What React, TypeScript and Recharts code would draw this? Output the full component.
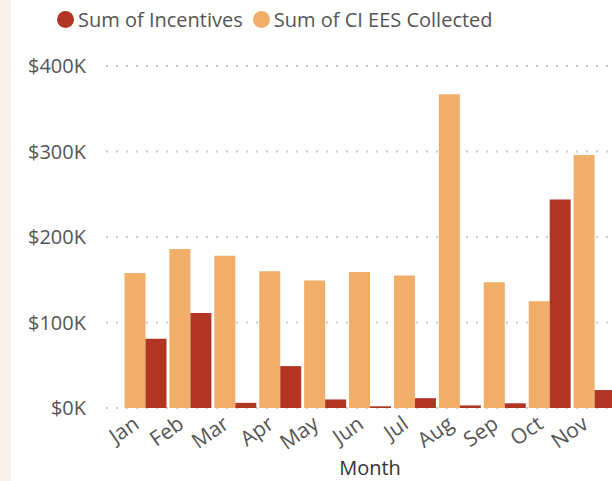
import { BarChart, Bar, XAxis, YAxis, CartesianGrid } from 'recharts'

const months = ['Jan', 'Feb', 'Mar', 'Apr', 'May', 'Jun', 'Jul', 'Aug', 'Sep', 'Oct', 'Nov']
const ciEesCollected = [158000, 186000, 178000, 160000, 149000, 159000, 155000, 367000, 147000, 125000, 296000]
const incentives = [81000, 111000, 6000, 49000, 10000, 2000, 11500, 3000, 5500, 244000, 21000]
const yTicks = [0, 100000, 200000, 300000, 400000]

const ORANGE = '#f0ae68'
const RED = '#b03623'
const FONT = '"Open Sans", sans-serif'

const data = months.map((month, i) => ({
  month,
  ees: ciEesCollected[i],
  incentives: incentives[i],
}))

function LegendItem({ color, label }: { color: string; label: string }) {
  return (
    <div style={{ display: 'flex', alignItems: 'center', gap: 4 }}>
      <span style={{ width: 17, height: 17, borderRadius: '50%', background: color, display: 'inline-block' }} />
      <span style={{ fontSize: 20, color: '#555' }}>{label}</span>
    </div>
  )
}

function MonthTick({ x, y, payload }: { x?: number; y?: number; payload?: { value: string } }) {
  return (
    <g transform={`translate(${(x ?? 0) - 5},${(y ?? 0) + 11})`}>
      <text
        x={0}
        y={0}
        textAnchor="end"
        transform="rotate(-35)"
        fontSize={21}
        fill="#555"
        fontFamily={FONT}
      >
        {payload?.value}
      </text>
    </g>
  )
}

export default function App() {
  return (
    <div
      style={{
        position: 'fixed',
        left: 0,
        top: 0,
        width: 612,
        height: 481,
        overflow: 'hidden',
        background: '#fff',
        fontFamily: FONT,
      }}
    >
      <div style={{ position: 'absolute', left: 0, top: 0, width: 11, height: 481, background: '#f9f4ea' }} />
      <div style={{ position: 'absolute', left: 57, top: 6, display: 'flex', gap: 10, zIndex: 2 }}>
        <LegendItem color={RED} label="Sum of Incentives" />
        <LegendItem color={ORANGE} label="Sum of CI EES Collected" />
      </div>
      <BarChart
        width={634}
        height={481}
        data={data}
        margin={{ top: 66, right: 0, left: 0, bottom: 0 }}
        barCategoryGap={1.5}
        barGap={0}
      >
        <CartesianGrid vertical={false} stroke="#cccccc" strokeWidth={2} strokeDasharray="2 8" />
        <XAxis
          dataKey="month"
          height={73}
          padding={{ left: 17, right: 17 }}
          axisLine={false}
          tickLine={false}
          interval={0}
          tick={<MonthTick />}
          label={{ value: 'Month', position: 'insideBottom', offset: 6, fontSize: 20, fill: '#333', fontFamily: FONT }}
        />
        <YAxis
          width={106}
          domain={[0, 400000]}
          ticks={yTicks}
          axisLine={false}
          tickLine={false}
          tickMargin={14}
          tick={{ fontSize: 20, fill: '#555', fontFamily: FONT }}
          tickFormatter={(v: number) => `$${v / 1000}K`}
        />
        <Bar dataKey="ees" name="Sum of CI EES Collected" fill={ORANGE} isAnimationActive={false} />
        <Bar dataKey="incentives" name="Sum of Incentives" fill={RED} isAnimationActive={false} />
      </BarChart>
    </div>
  )
}
